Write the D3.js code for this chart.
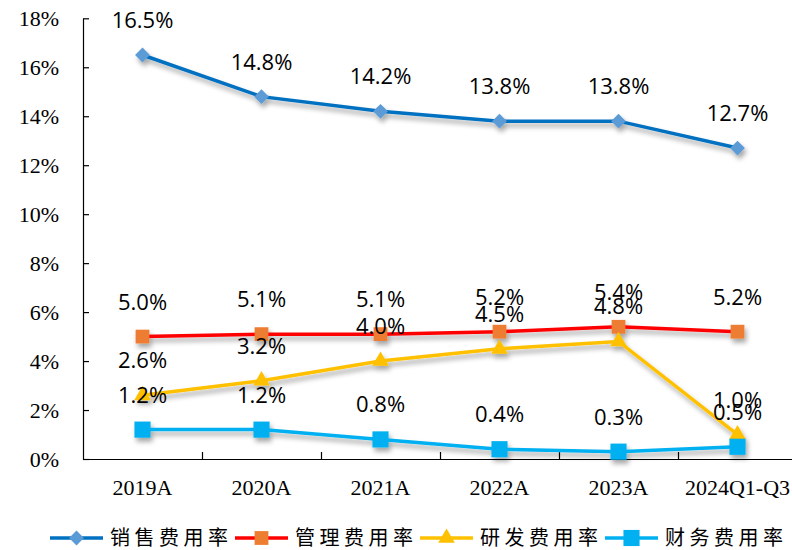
<!DOCTYPE html>
<html>
<head>
    <meta charset="utf-8">
    <title>费用率</title>
    <style>
        body { margin: 0; background: #fff; }
    </style>
</head>
<body>

    <script src="https://d3js.org/d3.v7.min.js"></script>
    <script type="text/javascript">

    // categories and series (in %)
    var years = ["2019A", "2020A", "2021A", "2022A", "2023A", "2024Q1-Q3"];
    var sales = [16.5, 14.8, 14.2, 13.8, 13.8, 12.7];
    var admin = [5.0, 5.1, 5.1, 5.2, 5.4, 5.2];
    var rnd   = [2.6, 3.2, 4.0, 4.5, 4.8, 1.0];
    var fin   = [1.2, 1.2, 0.8, 0.4, 0.3, 0.5];
    var yTicks = [0, 2, 4, 6, 8, 10, 12, 14, 16, 18];

    // diamond = square turned 45 degrees
    var series = [
        {name: "销售费用率", values: sales, line: "#0070C0", marker: "#5B9BD5", shape: d3.symbolSquare, size: 110, rot: 45},
        {name: "管理费用率", values: admin, line: "#FF0000", marker: "#ED7D31", shape: d3.symbolSquare, size: 190, rot: 0},
        {name: "研发费用率", values: rnd,   line: "#FFC000", marker: "#FFC000", shape: d3.symbolTriangle, size: 120, rot: 0},
        {name: "财务费用率", values: fin,   line: "#00B0F0", marker: "#00B0F0", shape: d3.symbolSquare, size: 260, rot: 0}
    ];

    var width = 792, height = 550;
    var plotLeft = 83, plotRight = 797, plotTop = 18.3, plotBottom = 459;

    var svg = d3.select("body")
        .append("svg")
        .attr("width", width)
        .attr("height", height);

    var defs = svg.append("defs");
    defs.append("filter")
        .attr("id", "shadow")
        .attr("x", "-20%").attr("y", "-20%")
        .attr("width", "140%").attr("height", "160%")
        .append("feDropShadow")
        .attr("dx", 2).attr("dy", 4)
        .attr("stdDeviation", 2.5)
        .attr("flood-color", "#000")
        .attr("flood-opacity", 0.35);

    var x = d3.scaleBand().domain(years).range([plotLeft, plotRight]).padding(0);
    var y = d3.scaleLinear().domain([0, 18]).range([plotBottom, plotTop]);
    var cx = function(i) { return x(years[i]) + x.bandwidth() / 2; };

    // y axis, ticks point inward
    var yAxis = svg.append("g")
        .attr("transform", "translate(" + plotLeft + ",0)")
        .call(d3.axisLeft(y).tickValues(yTicks).tickSizeInner(-6).tickSizeOuter(0)
            .tickPadding(24).tickFormat(function(d) { return d + "%"; }));
    yAxis.selectAll("text")
        .style("font-family", "'Liberation Serif', serif")
        .style("font-size", "22px")
        .attr("fill", "#000");

    // x axis labels
    var xAxis = svg.append("g")
        .attr("transform", "translate(0," + plotBottom + ")")
        .call(d3.axisBottom(x).tickSize(0).tickPadding(20));
    xAxis.selectAll("text")
        .style("font-family", "'Liberation Serif', serif")
        .style("font-size", "22px")
        .attr("fill", "#000");

    // boundary ticks between categories
    var idx = d3.scaleLinear().domain([0, years.length]).range([plotLeft, plotRight]);
    svg.append("g")
        .attr("transform", "translate(0," + plotBottom + ")")
        .call(d3.axisBottom(idx).tickValues(d3.range(1, years.length)).tickSize(-7).tickSizeOuter(0).tickFormat(""));

    svg.selectAll(".domain, .tick line").attr("stroke", "#000").attr("stroke-width", 1.2);

    var line = d3.line()
        .x(function(d, i) { return cx(i); })
        .y(function(d) { return y(d); });

    series.forEach(function(s) {
        var g = svg.append("g").attr("filter", "url(#shadow)");
        g.append("path")
            .datum(s.values)
            .attr("d", line)
            .attr("fill", "none")
            .attr("stroke", s.line)
            .attr("stroke-width", 3.5);
        g.selectAll(".pt")
            .data(s.values)
            .enter().append("path")
            .attr("transform", function(d, i) { return "translate(" + cx(i) + "," + y(d) + ") rotate(" + s.rot + ")"; })
            .attr("d", d3.symbol().type(s.shape).size(s.size))
            .attr("fill", s.marker);
    });

    // data labels
    series.forEach(function(s) {
        svg.append("g").selectAll("text")
            .data(s.values)
            .enter().append("text")
            .attr("x", function(d, i) { return cx(i); })
            .attr("y", function(d) { return y(d) - 27; })
            .attr("text-anchor", "middle")
            .style("font-family", "'Open Sans', sans-serif")
            .style("font-size", "22px")
            .attr("fill", "#000")
            .text(function(d) { return d.toFixed(1) + "%"; });
    });

    // legend
    var legend = svg.append("g").attr("transform", "translate(50,538)");
    series.forEach(function(s, i) {
        var item = legend.append("g").attr("transform", "translate(" + (i * 185) + ",0)");
        item.append("line")
            .attr("x1", 0).attr("x2", 53)
            .attr("stroke", s.line)
            .attr("stroke-width", 3.5);
        item.append("path")
            .attr("transform", "translate(26.5,0) rotate(" + s.rot + ")")
            .attr("d", d3.symbol().type(s.shape).size(s.size))
            .attr("fill", s.marker);
        item.append("text")
            .attr("x", 60)
            .attr("dy", "0.35em")
            .style("font-family", "'Noto Sans CJK SC', sans-serif")
            .style("font-size", "20px")
            .style("letter-spacing", "4.5px")
            .attr("fill", "#000")
            .text(s.name);
    });

    </script>
</body>
</html>
